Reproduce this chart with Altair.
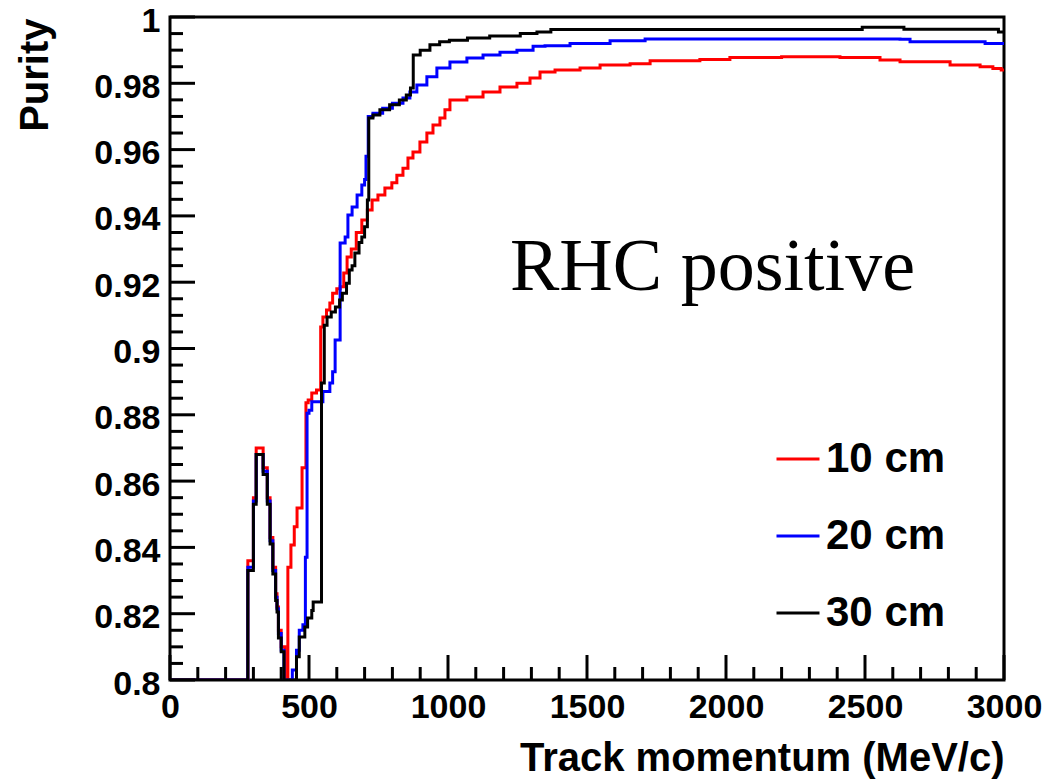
import altair as alt
import pandas as pd

# ---- data ----
SERIES = ["10 cm", "20 cm", "30 cm"]
COLORS = ["#ff0000", "#0000ff", "#000000"]

X10 = [0, 280, 300, 310, 335, 350, 360, 370, 380, 385, 390, 400, 413, 424, 435, 447, 457, 475, 489, 497,
       510, 527, 542, 550, 563, 575, 585, 600, 612, 625, 637, 652, 670, 690, 710, 727, 748, 773, 798, 816,
       838, 856, 874, 899, 924, 946, 971, 989, 1007, 1068, 1126, 1187, 1248, 1295, 1331, 1385, 1475, 1547,
       1655, 1727, 1906, 2014, 2200, 2410, 2554, 2626, 2806, 2914, 2960, 2990, 3000]
Y10 = [0.8, 0.836, 0.855, 0.870, 0.864, 0.855, 0.843, 0.834, 0.826, 0.822, 0.815, 0.810, 0.8, 0.834,
       0.8407, 0.8462, 0.8519, 0.864, 0.8836, 0.8845, 0.8866, 0.8875, 0.9065, 0.9095, 0.9116, 0.9137,
       0.9167, 0.918, 0.9186, 0.9228, 0.9276, 0.930, 0.935, 0.9388, 0.9418, 0.9448, 0.9463, 0.9484, 0.950,
       0.9523, 0.9544, 0.9575, 0.9593, 0.9623, 0.965, 0.9674, 0.9695, 0.972, 0.975, 0.9759, 0.9774, 0.9789,
       0.980, 0.9816, 0.9834, 0.984, 0.9846, 0.9855, 0.9859, 0.9868, 0.9872, 0.9878, 0.988, 0.9878, 0.987,
       0.9865, 0.9855, 0.985, 0.9845, 0.984, 0.984]

X20 = [0, 280, 300, 310, 335, 350, 360, 370, 380, 385, 390, 400, 410, 440, 455, 465, 478, 487, 493, 500,
       510, 550, 575, 585, 594, 612, 630, 640, 655, 673, 690, 700, 705, 713, 730, 765, 800, 838, 863, 888,
       924, 960, 1007, 1068, 1126, 1187, 1248, 1306, 1349, 1439, 1583, 1709, 2626, 2662, 2932, 3000]
Y20 = [0.8, 0.834, 0.854, 0.868, 0.863, 0.854, 0.842, 0.833, 0.825, 0.8215, 0.814, 0.809, 0.8, 0.803,
       0.809, 0.815, 0.8167, 0.837, 0.8805, 0.8814, 0.8839, 0.887, 0.8896, 0.893, 0.9026, 0.9318, 0.9336,
       0.9403, 0.9427, 0.9463, 0.9493, 0.951, 0.958, 0.970, 0.971, 0.9725, 0.974, 0.9756, 0.9774, 0.9795,
       0.982, 0.9846, 0.9864, 0.9876, 0.9885, 0.9894, 0.990, 0.9912, 0.9913, 0.992, 0.9928, 0.9934, 0.9933,
       0.9925, 0.992, 0.992]

X30 = [0, 280, 300, 310, 335, 350, 360, 370, 380, 385, 390, 400, 410, 455, 465, 485, 495, 510, 515, 545,
       555, 565, 580, 595, 610, 620, 635, 645, 655, 665, 680, 690, 700, 710, 715, 730, 755, 790, 825, 850,
       865, 875, 900, 935, 970, 1005, 1070, 1150, 1260, 1320, 1370, 2490, 2640, 2980, 3000]
Y30 = [0.8, 0.833, 0.853, 0.868, 0.862, 0.853, 0.841, 0.832, 0.824, 0.8205, 0.8127, 0.8085, 0.8, 0.807,
       0.813, 0.816, 0.8187, 0.821, 0.8235, 0.8896, 0.907, 0.9095, 0.911, 0.9125, 0.9146, 0.9167, 0.9197,
       0.9237, 0.925, 0.9288, 0.932, 0.9336, 0.9367, 0.9448, 0.9695, 0.9704, 0.972, 0.9735, 0.975, 0.9765,
       0.9786, 0.9885, 0.990, 0.9916, 0.9925, 0.993, 0.9937, 0.9943, 0.995, 0.9955, 0.9962, 0.9969, 0.9963,
       0.9955, 0.9955]

X_MAJOR = [0, 500, 1000, 1500, 2000, 2500, 3000]
X_MINOR = [100, 200, 300, 400, 600, 700, 800, 900, 1100, 1200, 1300, 1400, 1600, 1700, 1800, 1900,
           2100, 2200, 2300, 2400, 2600, 2700, 2800, 2900]
Y_MAJOR = [0.8, 0.82, 0.84, 0.86, 0.88, 0.9, 0.92, 0.94, 0.96, 0.98, 1.0]
Y_MINOR = [0.805, 0.81, 0.815, 0.825, 0.83, 0.835, 0.845, 0.85, 0.855, 0.865, 0.87, 0.875,
           0.885, 0.89, 0.895, 0.905, 0.91, 0.915, 0.925, 0.93, 0.935, 0.945, 0.95, 0.955,
           0.965, 0.97, 0.975, 0.985, 0.99, 0.995]

X_TITLE = "Track momentum (MeV/c)"
Y_TITLE = "Purity"
LABEL = "RHC positive"

# ---- build tables ----
rows = []
for name, xs, ys in [(SERIES[0], X10, Y10), (SERIES[1], X20, Y20), (SERIES[2], X30, Y30)]:
    assert len(xs) == len(ys)
    for x, y in zip(xs, ys):
        rows.append({"p": x, "purity": y, "series": name})
df = pd.DataFrame(rows)

W, H = 834, 663
xscale = alt.Scale(domain=[0, 3000], nice=False, zero=False)
yscale = alt.Scale(domain=[0.8, 1.0], nice=False, zero=False)
FONT = "Liberation Sans"

xaxis = alt.Axis(
    title=X_TITLE, values=X_MAJOR, format="d", ticks=False, tickSize=0, domain=False, grid=False,
    labelFont=FONT, labelFontWeight="bold", labelFontSize=34, labelColor="black",
    labelBaseline="alphabetic", labelPadding=37, labelOverlap=False, labelFlush=False, labelBound=False,
    titleFont=FONT, titleFontWeight="bold", titleFontSize=40, titleColor="black",
    titleX=W, titleY=90, titleAlign="right", titleBaseline="alphabetic", titleAnchor="end")
yaxis = alt.Axis(
    title=Y_TITLE, values=Y_MAJOR, format="~g", ticks=False, tickSize=0, domain=False, grid=False,
    labelFont=FONT, labelFontWeight="bold", labelFontSize=34, labelColor="black",
    labelBaseline="middle", labelPadding=10, labelOffset=4, labelOverlap=False, labelFlush=False,
    labelBound=False,
    titleFont=FONT, titleFontWeight="bold", titleFontSize=40, titleColor="black",
    titleX=-123, titleY=1, titleAngle=-90, titleAlign="right", titleBaseline="alphabetic",
    titleAnchor="end")

lines = alt.Chart(df).mark_line(interpolate="step-after", strokeWidth=3, clip=True).encode(
    x=alt.X("p:Q", scale=xscale, axis=xaxis),
    y=alt.Y("purity:Q", scale=yscale, axis=yaxis),
    color=alt.Color("series:N", scale=alt.Scale(domain=SERIES, range=COLORS), legend=alt.Legend(
        title=None, orient="none", legendX=605, legendY=419, symbolType="stroke", symbolSize=1849,
        symbolStrokeWidth=3, labelFont=FONT, labelFontWeight="bold", labelFontSize=42,
        labelColor="black", labelOffset=5, rowPadding=33, labelLimit=400)),
)

ymaj = alt.Chart(pd.DataFrame({"v": Y_MAJOR})).mark_rule(color="black", strokeWidth=3).encode(
    y=alt.Y("v:Q", scale=yscale, axis=yaxis), x=alt.value(0), x2=alt.value(25))
ymin = alt.Chart(pd.DataFrame({"v": Y_MINOR})).mark_rule(color="black", strokeWidth=3).encode(
    y=alt.Y("v:Q", scale=yscale, axis=yaxis), x=alt.value(0), x2=alt.value(13))
xmaj = alt.Chart(pd.DataFrame({"v": X_MAJOR})).mark_rule(color="black", strokeWidth=3).encode(
    x=alt.X("v:Q", scale=xscale, axis=xaxis), y=alt.value(H), y2=alt.value(H - 25))
xmin = alt.Chart(pd.DataFrame({"v": X_MINOR})).mark_rule(color="black", strokeWidth=3).encode(
    x=alt.X("v:Q", scale=xscale, axis=xaxis), y=alt.value(H), y2=alt.value(H - 13))

label = alt.Chart(pd.DataFrame({"t": [LABEL]})).mark_text(
    font="Liberation Serif", fontSize=74, align="left", baseline="alphabetic", color="black"
).encode(text="t:N", x=alt.value(340), y=alt.value(273))

chart = alt.layer(lines, ymaj, ymin, xmaj, xmin, label).properties(
    width=W, height=H, autosize="none",
    padding={"left": 170, "top": 17, "right": 43, "bottom": 100},
    background="white",
).configure_view(stroke="black", strokeWidth=3, fill=None)

chart.save("out.html", embed_options={"renderer": "svg", "actions": False})
